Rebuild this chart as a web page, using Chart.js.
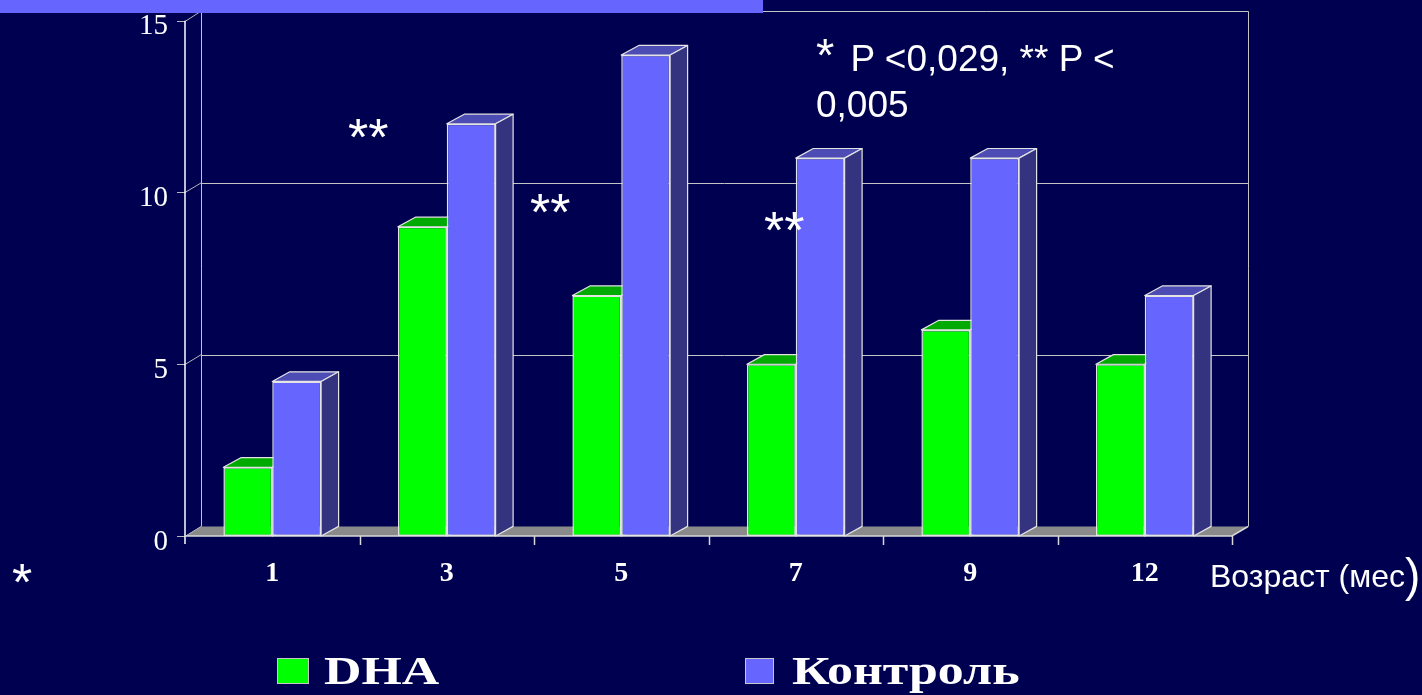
<!DOCTYPE html>
<html lang="ru">
<head>
<meta charset="utf-8">
<title>DHA / Контроль</title>
<script src="https://cdn.jsdelivr.net/npm/chart.js@4.4.1/dist/chart.umd.min.js"></script>
<style>
  html, body { margin: 0; padding: 0; background: #000050; overflow: hidden; }
  #stage { position: relative; width: 1422px; height: 695px; background: #000050; }
  #chart { position: absolute; left: 0; top: 0; }
  .band { position: absolute; left: 0; top: 0; width: 763px; height: 13px; background: #6666FF; }
  .note { position: absolute; color: #fff; font-family: "Liberation Sans", Arial, sans-serif; white-space: nowrap; }
  .legend-box { position: absolute; border: 1px solid #c8c8c8; box-sizing: border-box; }
  .legend-text { position: absolute; color: #fff; font-family: "Liberation Serif", "Times New Roman", serif;
                 font-weight: bold; font-size: 39px; line-height: 39px; white-space: nowrap;
                 transform: scaleX(1.33); transform-origin: 0 0; }
</style>
</head>
<body>
<div id="stage">
  <canvas id="chart" width="1422" height="695"></canvas>
  <div class="band"></div>

  <div class="note" style="left:816px; top:36px; font-size:37px; line-height:46px;"><span style="font-size:47px; line-height:0; margin-right:6px;">*</span> P &lt;0,029, ** P &lt;<br>0,005</div>
  <div class="note" style="left:348px; top:111px; font-size:52px; line-height:52px;">**</div>
  <div class="note" style="left:530px; top:186px; font-size:52px; line-height:52px;">**</div>
  <div class="note" style="left:764px; top:204px; font-size:52px; line-height:52px;">**</div>
  <div class="note" style="left:12px; top:556px; font-size:52px; line-height:52px;">*</div>
  <div class="note" style="left:1210px; top:560px; font-size:32px; line-height:30px;">Возраст (мес<span style="font-size:46px; line-height:30px; vertical-align:-4px;">)</span></div>

  <div class="legend-box" style="left:277px; top:658px; width:32px; height:26px; background:#00FF00;"></div>
  <div class="legend-text" style="left:324px; top:651px;">DHA</div>
  <div class="legend-box" style="left:745px; top:658px; width:29px; height:26px; background:#6666FF;"></div>
  <div class="legend-text" style="left:792px; top:651px;">Контроль</div>
</div>

<script>
// Age at examination, months
const ageMonths = ['1', '3', '5', '7', '9', '12'];
// DHA group
const dhaValues = [2, 9, 7, 5, 6, 5];
// Control group
const controlValues = [4.5, 12, 14, 11, 11, 7];
// Value-axis ticks
const yTicks = [0, 5, 10, 15];

// Face colours of the extruded bars: [front, top, side]
const dhaShades = ['#00FF00', '#00AA00', '#008800'];
const controlShades = ['#6666FF', '#4C4CB4', '#33337F'];

// Depth offsets of the back wall and of the bar blocks
const WALL_DX = 16, WALL_DY = -9.5;
const BAR_DX = 17.5, BAR_DY = -9.6;

function drawBlockFaces(ctx, meta, shades) {
  ctx.save();
  ctx.strokeStyle = '#E4E4E4';
  ctx.lineWidth = 1.2;
  ctx.lineJoin = 'round';
  meta.data.forEach(bar => {
    const { x, y, base, width } = bar.getProps(['x', 'y', 'base', 'width'], true);
    const L = x - width / 2, R = x + width / 2;
    // top face
    ctx.fillStyle = shades[1];
    ctx.beginPath();
    ctx.moveTo(L, y);
    ctx.lineTo(L + BAR_DX, y + BAR_DY);
    ctx.lineTo(R + BAR_DX, y + BAR_DY);
    ctx.lineTo(R, y);
    ctx.closePath();
    ctx.fill();
    ctx.stroke();
    // side face
    ctx.fillStyle = shades[2];
    ctx.beginPath();
    ctx.moveTo(R, y);
    ctx.lineTo(R + BAR_DX, y + BAR_DY);
    ctx.lineTo(R + BAR_DX, base + BAR_DY);
    ctx.lineTo(R, base);
    ctx.closePath();
    ctx.fill();
    ctx.stroke();
  });
  ctx.restore();
}

const depthFrame = {
  id: 'depthFrame',
  beforeDatasetsDraw(chart) {
    const { ctx, chartArea, scales } = chart;
    const { left, right, bottom } = chartArea;
    const y = scales.y;
    const yTop = y.getPixelForValue(yTicks[yTicks.length - 1]);
    ctx.save();

    // floor
    ctx.fillStyle = '#8A8A8A';
    ctx.beginPath();
    ctx.moveTo(left, bottom);
    ctx.lineTo(right, bottom);
    ctx.lineTo(right + WALL_DX, bottom + WALL_DY);
    ctx.lineTo(left + WALL_DX, bottom + WALL_DY);
    ctx.closePath();
    ctx.fill();

    // back wall grid and edges
    ctx.strokeStyle = '#C4C4C4';
    ctx.lineWidth = 1;
    yTicks.forEach(v => {
      if (v === 0) return;
      const py = Math.round(y.getPixelForValue(v) + WALL_DY) + 0.5;
      ctx.beginPath();
      ctx.moveTo(left + WALL_DX, py);
      ctx.lineTo(right + WALL_DX, py);
      ctx.stroke();
    });
    [left + WALL_DX, right + WALL_DX].forEach(px => {
      ctx.beginPath();
      ctx.moveTo(Math.round(px) + 0.5, yTop + WALL_DY);
      ctx.lineTo(Math.round(px) + 0.5, bottom + WALL_DY);
      ctx.stroke();
    });

    // value ticks and their links to the back wall
    ctx.strokeStyle = '#B8B8B8';
    yTicks.forEach(v => {
      const py = y.getPixelForValue(v);
      ctx.beginPath();
      ctx.moveTo(left - 8, Math.round(py) + 0.5);
      ctx.lineTo(left, Math.round(py) + 0.5);
      ctx.lineTo(left + WALL_DX, py + WALL_DY);
      ctx.stroke();
    });

    // front value axis
    ctx.strokeStyle = '#FFFFFF';
    ctx.lineWidth = 1.5;
    ctx.beginPath();
    ctx.moveTo(left, yTop);
    ctx.lineTo(left, bottom + 8);
    ctx.stroke();

    // category axis with boundary ticks
    ctx.strokeStyle = '#D8D8D8';
    ctx.lineWidth = 1.5;
    ctx.beginPath();
    ctx.moveTo(left, bottom);
    ctx.lineTo(right, bottom);
    ctx.lineTo(right + WALL_DX, bottom + WALL_DY);
    ctx.stroke();
    const step = (right - left) / ageMonths.length;
    for (let i = 1; i <= ageMonths.length; i++) {
      const px = Math.round(left + i * step) + 0.5;
      ctx.beginPath();
      ctx.moveTo(px, bottom);
      ctx.lineTo(px, bottom + 9);
      ctx.stroke();
    }
    ctx.restore();

    // DHA blocks sit behind the control blocks, so their top/side faces go first
    drawBlockFaces(ctx, chart.getDatasetMeta(0), dhaShades);
  },
  afterDatasetDraw(chart, args) {
    if (args.index === 1) drawBlockFaces(chart.ctx, args.meta, controlShades);
  }
};

// plot frame is fixed by the layout padding, not by label overhang
function noOverhang(scale) {
  scale.paddingTop = 0;
  scale.paddingBottom = 0;
  scale.paddingLeft = 0;
  scale.paddingRight = 0;
}

new Chart(document.getElementById('chart'), {
  type: 'bar',
  data: {
    labels: ageMonths,
    datasets: [
      { label: 'DHA', data: dhaValues, backgroundColor: dhaShades[0],
        borderColor: '#E4E4E4', borderWidth: 1.5, borderSkipped: false },
      { label: 'Контроль', data: controlValues, backgroundColor: controlShades[0],
        borderColor: '#E4E4E4', borderWidth: 1.5, borderSkipped: false }
    ]
  },
  options: {
    responsive: false,
    animation: false,
    devicePixelRatio: 1,
    layout: { padding: { top: 20.7, right: 190, bottom: 0, left: 0 } },
    plugins: { legend: { display: false }, tooltip: { enabled: false } },
    datasets: { bar: { barPercentage: 1, categoryPercentage: 0.56 } },
    scales: {
      x: {
        grid: { display: false, drawTicks: false },
        border: { display: false },
        ticks: { color: '#FFFFFF', padding: 21,
                 font: { family: 'Liberation Serif', size: 28, weight: 'bold' } },
        afterFit(scale) { scale.height = 159; noOverhang(scale); }
      },
      y: {
        min: 0, max: 15,
        afterBuildTicks(scale) { scale.ticks = yTicks.map(v => ({ value: v })); },
        grid: { display: false, drawTicks: false },
        border: { display: false },
        ticks: { color: '#FFFFFF', padding: 17, labelOffset: 6,
                 font: { family: 'Liberation Serif', size: 29 } },
        afterFit(scale) { scale.width = 185; noOverhang(scale); }
      }
    }
  },
  plugins: [depthFrame]
});
</script>
</body>
</html>
